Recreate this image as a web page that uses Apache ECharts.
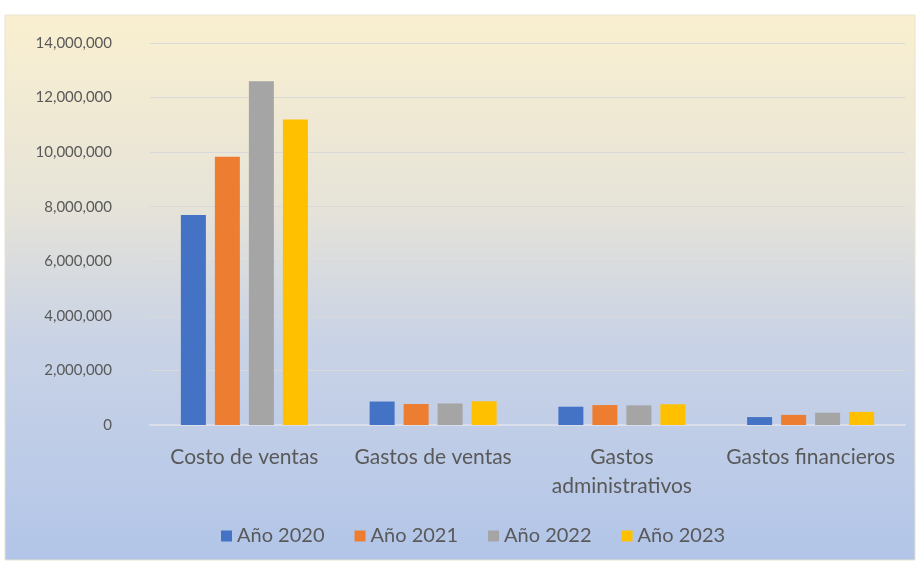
<!DOCTYPE html>
<html>
<head>
<meta charset="utf-8">
<script src="https://cdn.jsdelivr.net/npm/echarts@6/dist/echarts.min.js"></script>
<style>
  html, body { margin: 0; padding: 0; background: #ffffff; }
  #chart { width: 920px; height: 566px; }
</style>
</head>
<body>
<div id="chart"></div>
<script>
// Expense categories and yearly amounts
const categories = ['Costo de ventas', 'Gastos de ventas', 'Gastos\nadministrativos', 'Gastos financieros'];
const yearNames = ['Año 2020', 'Año 2021', 'Año 2022', 'Año 2023'];
const year2020 = [7700000, 860000, 670000, 290000];
const year2021 = [9830000, 770000, 730000, 370000];
const year2022 = [12600000, 790000, 720000, 450000];
const year2023 = [11200000, 870000, 760000, 480000];
const yTicks = { min: 0, max: 14000000, interval: 2000000 };

const palette = ['#4472C4', '#ED7D31', '#A5A5A5', '#FFC000'];
const values = [year2020, year2021, year2022, year2023];
const fontFamily = "Lato, 'Liberation Sans', sans-serif";

const chart = echarts.init(document.getElementById('chart'), null, { renderer: 'canvas' });

chart.setOption({
  backgroundColor: '#ffffff',
  animation: false,
  graphic: [{
    type: 'rect',
    z: -10,
    silent: true,
    shape: { x: 5, y: 15, width: 910, height: 545 },
    style: {
      fill: new echarts.graphic.LinearGradient(0, 0, 0, 1, [
        { offset: 0, color: '#FAF0D0' },
        { offset: 0.35, color: '#E6E3D8' },
        { offset: 0.6, color: '#C9D3E6' },
        { offset: 1, color: '#B2C5E8' }
      ]),
      stroke: '#E8E2D0',
      lineWidth: 1
    }
  }],
  grid: { left: 150, right: 15, top: 43, bottom: 141 },
  legend: {
    data: yearNames,
    top: 521,
    left: 216,
    itemWidth: 11,
    itemHeight: 11,
    itemGap: 30,
    icon: 'rect',
    textStyle: { color: '#595959', fontSize: 20, fontFamily: fontFamily }
  },
  xAxis: {
    type: 'category',
    data: categories,
    axisLine: { show: true, lineStyle: { color: '#D9DEEA', width: 2 } },
    axisTick: { show: false },
    axisLabel: {
      color: '#595959',
      fontSize: 21,
      fontFamily: fontFamily,
      margin: 18,
      lineHeight: 29,
      interval: 0
    }
  },
  yAxis: {
    type: 'value',
    min: yTicks.min,
    max: yTicks.max,
    interval: yTicks.interval,
    axisLine: { show: false },
    axisTick: { show: false },
    splitLine: { lineStyle: { color: '#D9D9D9', width: 1.2 } },
    axisLabel: {
      color: '#595959',
      fontSize: 15,
      fontFamily: fontFamily,
      margin: 38,
      formatter: v => v.toLocaleString('en-US')
    }
  },
  series: yearNames.map((name, i) => ({
    name: name,
    type: 'bar',
    data: values[i],
    barWidth: 25,
    barGap: '36%',
    barCategoryGap: '32%',
    itemStyle: { color: palette[i] }
  }))
});
</script>
</body>
</html>
